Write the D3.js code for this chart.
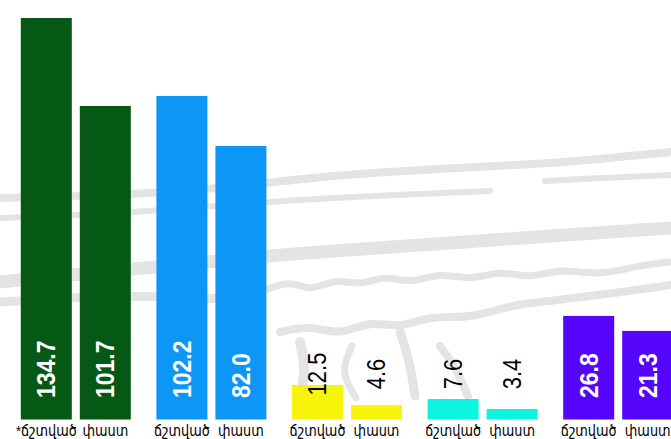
<!DOCTYPE html>
<html>
<head>
<meta charset="utf-8">
<script src="https://cdn.jsdelivr.net/npm/d3@7"></script>
<style>
  html, body { margin: 0; padding: 0; background: #ffffff; }
  svg { display: block; }
</style>
</head>
<body>
<div id="chart"></div>
<script>
// ---- data ----
const groups = ["A", "B", "C", "D", "E"];
const series = ["adjusted", "actual"];
const adjustedValues = [134.7, 102.2, 12.5, 7.6, 26.8];
const actualValues = [101.7, 82.0, 4.6, 3.4, 21.3];
const adjustedLabels = ["*ճշտված", "ճշտված", "ճշտված", "ճշտված", "ճշտված"];
const actualLabels = ["փաստ", "փաստ", "փաստ", "փաստ", "փաստ"];
const groupColors = ["#065914", "#0c96f5", "#f7f50a", "#0cf5e1", "#5506fa"];
const valueStyle = ["inside", "inside", "dark", "dark", "inside"];

// ---- layout ----
const W = 671, H = 439;
const baseY = 419.5, topY = 18;

const svg = d3.select("#chart").append("svg")
  .attr("width", W).attr("height", H)
  .style("font-family", "'Liberation Sans', Arial, 'DejaVu Sans', sans-serif");

// decorative faded background strokes (not data)
const backdrop = [
  {w: 8, p: [[0,198],[60,196],[140,194],[200,190],[266,183],[330,176],[400,171],[470,167],[540,164],[600,159],[671,152]]},
  {w: 6, p: [[0,218],[80,215],[150,211],[266,202],[350,197],[420,194],[490,191]]},
  {w: 6, p: [[545,181],[600,178],[671,175]]},
  {w: 13, p: [[0,282],[100,272],[200,263],[266,256],[350,250],[450,243],[550,236],[671,228]]},
  {w: 7, p: [[266,290],[290,280],[310,292],[335,278],[360,286],[385,275],[410,284],[440,272],[470,281],[500,270],[530,279],[560,268],[600,276],[640,265],[671,262]]},
  {w: 8, p: [[280,332],[310,325],[340,336],[370,320],[400,329],[430,315],[470,319],[510,305],[550,301],[600,295],[671,285]]},
  {w: 9, p: [[0,302],[80,297],[160,296],[240,300]]},
  {w: 10, p: [[300,342],[306,370],[300,400]]},
  {w: 9, p: [[400,332],[410,362],[415,396]]},
  {w: 8, p: [[440,346],[455,366],[468,396]]},
  {w: 7, p: [[352,346],[340,372],[356,398]]}
];
const bgLine = d3.line().curve(d3.curveBasis);
svg.append("g").selectAll("path").data(backdrop).join("path")
  .attr("d", d => bgLine(d.p))
  .attr("fill", "none")
  .attr("stroke", "#e4e4e4")
  .attr("stroke-width", d => d.w)
  .attr("stroke-linecap", "round")
  .attr("stroke-linejoin", "round");

// scales
const xGroup = d3.scaleBand().domain(groups).range([20.8, 20.8 + 135.6 * groups.length]).padding(0);
const xSub = d3.scaleBand().domain(series).range([0, 110]).paddingInner(8 / 59).paddingOuter(0);
// each panel has its own value scale
const groupDomains = [[-15.9, 134.7], [-28.5, 133.7], [-1.1, 157.4], [-1.0, 167.6], [-11.2, 136.1]];
const yScales = groupDomains.map(dm => d3.scaleLinear().domain(dm).range([baseY, topY]));

const bars = [];
groups.forEach((g, i) => {
  bars.push({g, i, s: "adjusted", v: adjustedValues[i], label: adjustedLabels[i]});
  bars.push({g, i, s: "actual", v: actualValues[i], label: actualLabels[i]});
});

const barG = svg.append("g");
barG.selectAll("rect").data(bars).join("rect")
  .attr("x", d => xGroup(d.g) + xSub(d.s))
  .attr("width", xSub.bandwidth())
  .attr("y", d => yScales[d.i](d.v))
  .attr("height", d => baseY - yScales[d.i](d.v))
  .attr("fill", d => groupColors[d.i]);

// value labels (rotated)
barG.selectAll("text.val").data(bars).join("text")
  .attr("class", "val")
  .attr("transform", d => {
    const cx = xGroup(d.g) + xSub(d.s) + xSub.bandwidth() / 2;
    const y = valueStyle[d.i] === "inside" ? 398 : 374;
    return `translate(${cx},${y}) rotate(-90) scale(1,1.15)`;
  })
  .attr("text-anchor", d => valueStyle[d.i] === "inside" ? "start" : "middle")
  .attr("dominant-baseline", "central")
  .attr("font-size", d => valueStyle[d.i] === "inside" ? 23 : 22)
  .attr("font-weight", d => valueStyle[d.i] === "inside" ? "bold" : "normal")
  .attr("fill", d => valueStyle[d.i] === "inside" ? "#ffffff" : "#000000")
  .text(d => d.v.toFixed(1));

// category labels
barG.selectAll("text.cat").data(bars).join("text")
  .attr("class", "cat")
  .attr("transform", d => `translate(${xGroup(d.g) + xSub(d.s) + xSub.bandwidth() / 2},436) scale(0.86,1)`)
  .attr("text-anchor", "middle")
  .attr("font-size", 15)
  .attr("fill", "#000000")
  .text(d => d.label);
</script>
</body>
</html>
